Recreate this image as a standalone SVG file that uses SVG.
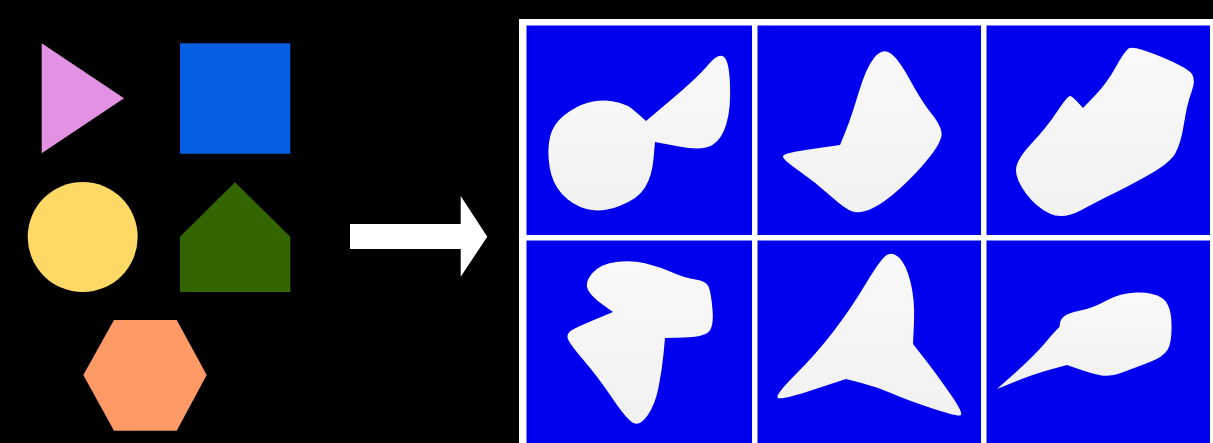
<svg xmlns="http://www.w3.org/2000/svg" width="1213" height="443" viewBox="0 0 1213 443">
<defs>
<linearGradient id="blobFill" x1="0" y1="0" x2="0" y2="1">
<stop offset="0" stop-color="#f9f9f9"/>
<stop offset="1" stop-color="#f1f1f1"/>
</linearGradient>
<filter id="soft" x="-5%" y="-5%" width="110%" height="110%">
<feGaussianBlur stdDeviation="0.7"/>
</filter>
</defs>
<style>
.cell{fill:#0000ee}
.blob{fill:url(#blobFill);filter:url(#soft)}
.arrow{fill:#ffffff}
</style>
<rect x="0" y="0" width="1213" height="443" fill="#000000"/>
<g id="triangle"><polygon points="41.7,43.3 41.7,153.3 124,98.3" fill="#e391e3"/></g>
<g id="square"><rect x="180" y="43.3" width="110.3" height="110.4" fill="#055fe3"/></g>
<g id="circle"><circle cx="82.7" cy="237" r="55" fill="#ffd966"/></g>
<g id="pentagon"><polygon points="180,236.7 235,182.3 290.3,236.7 290.3,292 180,292" fill="#336600"/></g>
<g id="hexagon"><polygon points="83.3,375 114,320 176.7,320 206.7,375 176.7,430.7 114,430.7" fill="#ff9966"/></g>
<g id="connectors"><polygon class="arrow" points="350,224 460.7,224 460.7,196 487.3,236.7 460.7,276.7 460.7,249 350,249"/></g>
<g id="grid">
<rect x="519" y="19" width="694" height="424" fill="#ffffff"/>
<rect class="cell" x="526.5" y="25.5" width="225.5" height="209.5"/>
<rect class="cell" x="757.5" y="25.5" width="223.5" height="209.5"/>
<rect class="cell" x="986.5" y="25.5" width="223.5" height="209.5"/>
<rect class="cell" x="526.5" y="240.5" width="225.5" height="210"/>
<rect class="cell" x="757.5" y="240.5" width="223.5" height="210"/>
<rect class="cell" x="986.5" y="240.5" width="223.5" height="210"/>
</g>
<g id="blob1"><path class="blob" d="M549.5,166.5 Q547,150 550,137 Q553,124 564.5,115 Q576,106 588.5,102.5 Q601,99 613.5,101.5 Q626,104 631,108 Q636,112 641,116.5 L646,121 L672,99 Q698,77 708,65 Q718,53 723.5,56.5 Q729,60 730,84 Q731,108 726.5,123.5 Q722,139 712.5,145 Q703,151 679,146.5 L655,142 L653.5,159 Q652,176 645,187.5 Q638,199 619.5,206 Q601,213 586.5,209 Q572,205 562,194 Q552,183 549.5,166.5 Z"/></g>
<g id="blob2"><path class="blob" d="M874,58 Q882,48 890,53 Q898,58 910,80 Q922,102 931,113 Q940,124 941.5,132 Q943,140 930,156.5 Q917,173 900.5,188 Q884,203 872,208.5 Q860,214 852.5,211.5 Q845,209 830,195.5 Q815,182 798.5,170.5 Q782,159 783,156 Q784,153 812,149 L840,145 L845.5,131.5 Q851,118 858.5,93 Q866,68 874,58 Z"/></g>
<g id="blob3"><path class="blob" d="M1128.5,48.5 Q1133,45 1160.5,56.5 Q1188,68 1192,74 Q1196,80 1191.5,92 Q1187,104 1184,123.5 Q1181,143 1175.5,153 Q1170,163 1148.5,175 Q1127,187 1113.5,193.5 Q1100,200 1081.5,210 Q1063,220 1049.5,213.5 Q1036,207 1026,193.5 Q1016,180 1016,170 Q1016,160 1031.5,143.5 Q1047,127 1057.5,111 Q1068,95 1070.5,96 Q1073,97 1078,102.5 L1083,108 L1095,95.5 Q1107,83 1115.5,67.5 Q1124,52 1128.5,48.5 Z"/></g>
<g id="blob4"><path class="blob" d="M588,290 Q584,283 592,273.5 Q600,264 616,262 Q632,260 646,263.5 Q660,267 672.5,272.5 Q685,278 695.5,279.5 Q706,281 708.5,286.5 Q711,292 712.5,309.5 Q714,327 708.5,332 Q703,337 684,337.5 L665,338 L663.5,354 Q662,370 658.5,387.5 Q655,405 647.5,415.5 Q640,426 633.5,423 Q627,420 612.5,398.5 Q598,377 583,359.5 Q568,342 567.5,337.5 Q567,333 572,330 Q577,327 595,319.5 L613,312 L602.5,304.5 Q592,297 588,290 Z"/></g>
<g id="blob5"><path class="blob" d="M886,255.5 Q892,251 899,257.5 Q906,264 910.5,282 Q915,300 914,322 L913,344 L924,358 Q935,372 950,393.5 Q965,415 960,415.5 Q955,416 931,408 Q907,400 892,393.5 Q877,387 861.5,383 L846,379 L812.5,390 Q779,401 777.5,397.5 Q776,394 796,374 Q816,354 833,332 Q850,310 865,285 Q880,260 886,255.5 Z"/></g>
<g id="blob6"><path class="blob" d="M997,389 L1015.5,372.5 Q1034,356 1045,343 Q1056,330 1058,328.5 Q1060,327 1060,323.5 Q1060,320 1064,316.5 Q1068,313 1080.5,310.5 Q1093,308 1106.5,300.5 Q1120,293 1136.5,292.5 Q1153,292 1162,298 Q1171,304 1171.5,323.5 Q1172,343 1167.5,350 Q1163,357 1150,362 Q1137,367 1123.5,372 Q1110,377 1101.5,375.5 Q1093,374 1080,369.5 L1067,365 L1050.5,369.5 Q1034,374 1015.5,381.5 L997,389 Z"/></g>
</svg>
